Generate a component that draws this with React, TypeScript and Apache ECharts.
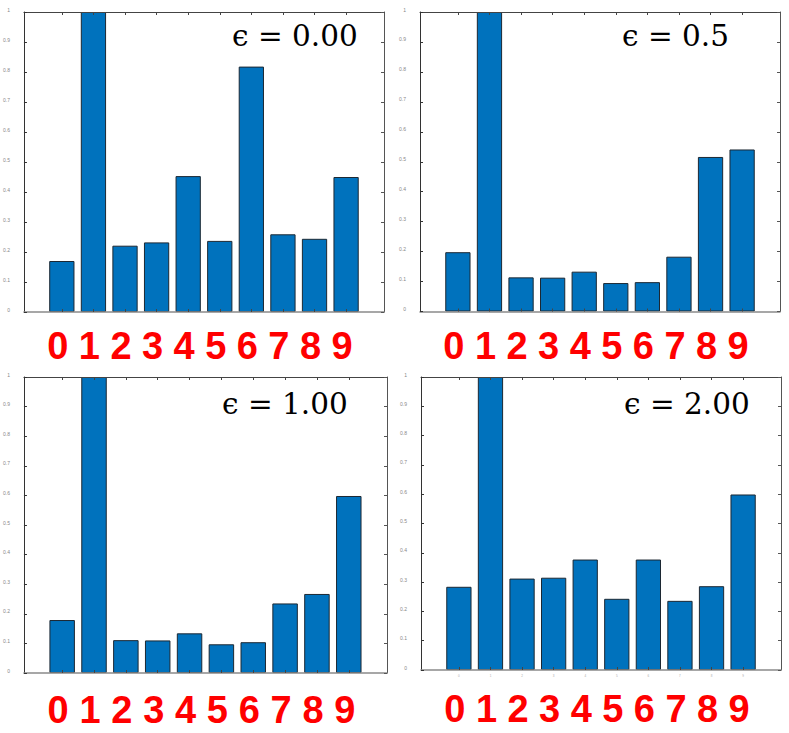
import React, { useEffect, useRef } from "react";
import * as echarts from "echarts";

const digits = ["0", "1", "2", "3", "4", "5", "6", "7", "8", "9"];
const digitPositions = [0, 1, 2, 3, 4, 5, 6, 7, 8, 9];
const yTickValues = [0, 0.1, 0.2, 0.3, 0.4, 0.5, 0.6, 0.7, 0.8, 0.9, 1];

const eps000 = [0.17, 1.0, 0.221, 0.232, 0.453, 0.237, 0.818, 0.259, 0.244, 0.45];
const eps050 = [0.198, 1.0, 0.114, 0.113, 0.133, 0.095, 0.098, 0.183, 0.516, 0.541];
const eps100 = [0.179, 1.0, 0.111, 0.11, 0.134, 0.097, 0.104, 0.235, 0.267, 0.598];
const eps200 = [0.284, 1.0, 0.312, 0.315, 0.377, 0.243, 0.377, 0.236, 0.286, 0.599];

const panelTitles = ["ϵ = 0.00", "ϵ = 0.5", "ϵ = 1.00", "ϵ = 2.00"];
const panelSeries = [eps000, eps050, eps100, eps200];

const grids = [
  { left: 23, top: 12, width: 361, height: 300 },
  { left: 420, top: 12, width: 360, height: 299.5 },
  { left: 23, top: 377, width: 364, height: 296 },
  { left: 421, top: 377, width: 360, height: 293 },
];
const titlePos = [
  { x: 232, y: 35.5 },
  { x: 622, y: 35.5 },
  { x: 222, y: 403.5 },
  { x: 624, y: 403.5 },
];
const labelMargins = [15, 15, 18, 20];

export default function App() {
  const ref = useRef<HTMLDivElement>(null);
  useEffect(() => {
    if (!ref.current) return;
    const chart = echarts.init(ref.current, null, { renderer: "svg" });
    const xAxis: any[] = [];
    const yAxis: any[] = [];
    const series: any[] = [];
    grids.forEach((g, gi) => {
      const xBottom = xAxis.length;
      xAxis.push({
        type: "value",
        gridIndex: gi,
        position: "bottom",
        min: -1.2,
        max: 10.2,
        z: 5,
        axisLine: { show: true, onZero: false, lineStyle: { color: "#8a8a8a", width: 1.5 } },
        axisTick: { show: true, inside: true, length: 3, customValues: digitPositions, lineStyle: { color: "#444" } },
        axisLabel: {
          show: true,
          customValues: digitPositions,
          formatter: (v: number) => digits[Math.round(v)] ?? "",
          fontSize: 38,
          fontWeight: "bold",
          fontFamily: "Liberation Sans",
          color: "#ff0000",
          margin: labelMargins[gi],
          padding: [0, 8, 0, 0],
        },
        splitLine: { show: false },
      });
      xAxis.push({
        type: "value",
        gridIndex: gi,
        position: "top",
        min: -1.2,
        max: 10.2,
        z: 5,
        axisLine: { show: true, onZero: false, lineStyle: { color: "#444", width: 1 } },
        axisTick: { show: true, inside: true, length: 3, customValues: digitPositions, lineStyle: { color: "#444" } },
        axisLabel: { show: false },
        splitLine: { show: false },
      });
      if (gi === 3) {
        xAxis.push({
          type: "value",
          gridIndex: gi,
          position: "bottom",
          min: -1.2,
          max: 10.2,
          axisLine: { show: false },
          axisTick: { show: false },
          axisLabel: {
            show: true,
            customValues: digitPositions,
            formatter: (v: number) => digits[Math.round(v)] ?? "",
            fontSize: 3,
            color: "#aaa",
            margin: 4,
          },
          splitLine: { show: false },
        });
      }
      const yLeft = yAxis.length;
      yAxis.push({
        type: "value",
        gridIndex: gi,
        position: "left",
        min: 0,
        max: 1,
        interval: 0.1,
        z: 5,
        axisLine: { show: true, onZero: false, lineStyle: { color: "#333", width: 1 } },
        axisTick: { show: true, inside: true, length: 3, lineStyle: { color: "#333" } },
        axisLabel: {
          show: true,
          fontSize: 5,
          color: "#888",
          margin: 14,
          verticalAlign: "bottom",
          formatter: (v: number) => String(Math.round(v * 10) / 10),
        },
        splitLine: { show: false },
      });
      yAxis.push({
        type: "value",
        gridIndex: gi,
        position: "right",
        min: 0,
        max: 1,
        interval: 0.1,
        z: 5,
        axisLine: { show: true, onZero: false, lineStyle: { color: "#555", width: 1 } },
        axisTick: { show: true, inside: true, length: 3, lineStyle: { color: "#555" } },
        axisLabel: { show: false },
        splitLine: { show: false },
      });
      series.push({
        type: "bar",
        xAxisIndex: xBottom,
        yAxisIndex: yLeft,
        barWidth: "80%",
        data: panelSeries[gi].map((v, i) => [digitPositions[i], v]),
        itemStyle: { color: "#0072BD", borderColor: "#1c2833", borderWidth: 1 },
        z: 2,
      });
    });

    chart.setOption({
      animation: false,
      backgroundColor: "#ffffff",
      grid: grids.map((g) => ({ ...g, containLabel: false })),
      xAxis,
      yAxis,
      series,
      graphic: panelTitles.map((t, i) => ({
        type: "text",
        x: titlePos[i].x,
        y: titlePos[i].y,
        z: 10,
        style: {
          text: t,
          fontSize: 29.5,
          fontFamily: "DejaVu Serif",
          fill: "#000",
          verticalAlign: "middle",
          align: "left",
        },
      })),
    });
    return () => chart.dispose();
  }, []);
  return (
    <div
      ref={ref}
      style={{ position: "absolute", left: 0, top: 0, width: 789, height: 733 }}
    />
  );
}
